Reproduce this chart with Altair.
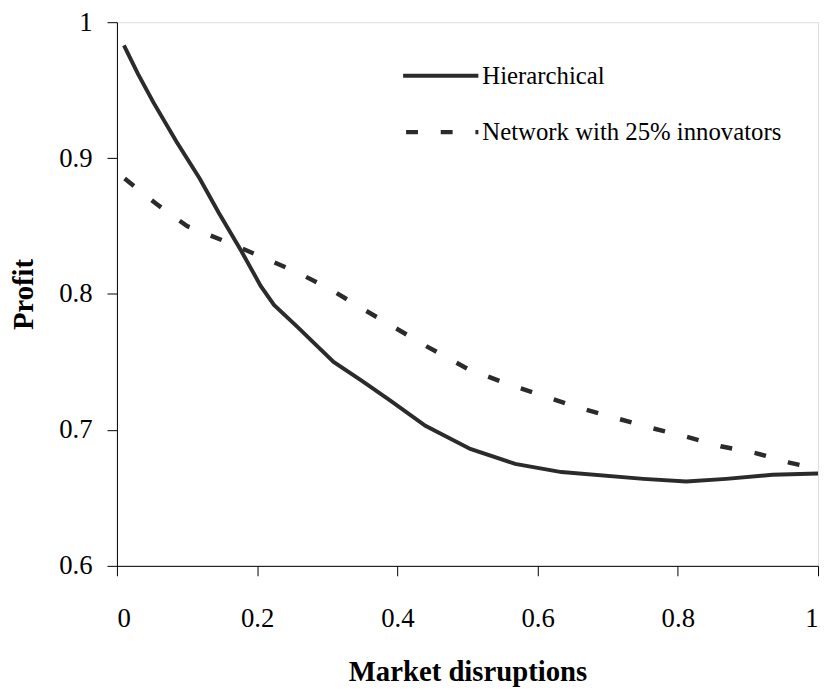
import altair as alt
import pandas as pd

# Hierarchical (solid line)
hier_x = [0.01, 0.03, 0.052, 0.085, 0.118, 0.145, 0.177, 0.205, 0.224, 0.257, 0.309,
          0.35, 0.389, 0.44, 0.504, 0.568, 0.634, 0.751, 0.812, 0.869, 0.935, 1.0]
hier_y = [0.983, 0.962, 0.941, 0.912, 0.885, 0.86, 0.832, 0.806, 0.792, 0.776, 0.750,
          0.736, 0.722, 0.703, 0.686, 0.675, 0.669, 0.664, 0.662, 0.664, 0.667, 0.668]

# Network with 25% innovators (dashed line)
net_x = [0.011, 0.057, 0.1, 0.158, 0.208, 0.257, 0.306, 0.351, 0.394, 0.44, 0.5,
         0.561, 0.609, 0.655, 0.703, 0.758, 0.812, 0.861, 0.911, 0.959, 0.985]
net_y = [0.885, 0.866, 0.850, 0.838, 0.827, 0.816, 0.803, 0.789, 0.776, 0.762, 0.745,
         0.733, 0.725, 0.717, 0.710, 0.702, 0.695, 0.688, 0.683, 0.676, 0.673]

series_names = ["Hierarchical", "Network with 25% innovators"]
x_ticks = [0, 0.2, 0.4, 0.6, 0.8, 1]
y_ticks = [0.6, 0.7, 0.8, 0.9, 1]

df_h = pd.DataFrame({"x": hier_x, "y": hier_y, "s": series_names[0]})
df_n = pd.DataFrame({"x": net_x, "y": net_y, "s": series_names[1]})

FONT = "Liberation Serif"
COLOR = "#2b2b2e"
W, H = 708, 549

xs = alt.Scale(domain=[0, 1], nice=False)
ys = alt.Scale(domain=[0.6, 1], nice=False)

x_axis = alt.Axis(values=x_ticks, format=".1~f", grid=False, tickSize=10,
                  labelPadding=30, labelFontSize=27, labelFont=FONT, labelColor="black",
                  domainColor="black", tickColor="black", title="Market disruptions",
                  titleFont=FONT, titleFontSize=29, titleFontWeight="bold", titleColor="black",
                  titleX=W / 2, titleY=116, titleBaseline="alphabetic", titleAnchor="middle")
y_axis = alt.Axis(values=y_ticks, format=".1~f", grid=False, tickSize=10,
                  labelPadding=15, labelFontSize=27, labelFont=FONT, labelColor="black",
                  domainColor="black", tickColor="black", title="Profit",
                  titleFont=FONT, titleFontSize=29, titleFontWeight="bold", titleColor="black",
                  titleX=-94, titleY=H / 2, titleBaseline="middle", titleAngle=-90)

solid = alt.Chart(df_h).mark_line(color=COLOR, strokeWidth=4).encode(
    x=alt.X("x:Q", scale=xs, axis=x_axis),
    y=alt.Y("y:Q", scale=ys, axis=y_axis),
)
dashed = alt.Chart(df_n).mark_line(color=COLOR, strokeWidth=4.5, strokeDash=[12, 23]).encode(
    x=alt.X("x:Q", scale=xs, axis=x_axis),
    y=alt.Y("y:Q", scale=ys, axis=y_axis),
)

leg_df = pd.DataFrame({"label": series_names})
leg_solid = alt.Chart(leg_df.iloc[[0]]).mark_rule(color=COLOR, strokeWidth=4).encode(
    x=alt.value(289), x2=alt.value(365), y=alt.value(54))
leg_dash = alt.Chart(leg_df.iloc[[1]]).mark_rule(color=COLOR, strokeWidth=4.5, strokeDash=[12, 23]).encode(
    x=alt.value(292), x2=alt.value(365), y=alt.value(111))
leg_text1 = alt.Chart(leg_df.iloc[[0]]).mark_text(align="left", baseline="middle", font=FONT,
                                                  fontSize=25, color="black").encode(
    x=alt.value(369), y=alt.value(54), text="label:N")
leg_text2 = alt.Chart(leg_df.iloc[[1]]).mark_text(align="left", baseline="middle", font=FONT,
                                                  fontSize=25, color="black").encode(
    x=alt.value(369), y=alt.value(111), text="label:N")

chart = alt.layer(solid, dashed, leg_solid, leg_dash, leg_text1, leg_text2).properties(
    width=W, height=H,
    autosize=alt.AutoSizeParams(type="none"),
    padding={"left": 110, "top": 11, "right": 4, "bottom": 120},
).configure_view(stroke="#999999", strokeWidth=2).configure(
    background="white", font=FONT
).configure_axis(labelFont=FONT, titleFont=FONT)

chart.save("out.html", embed_options={"renderer": "svg", "actions": False})
